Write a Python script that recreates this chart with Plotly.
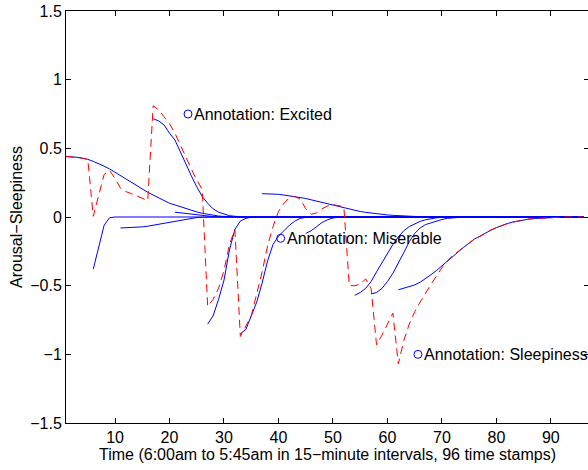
import plotly.graph_objects as go

N_T = 96
time = list(range(1, N_T + 1))

# Observed (red dashed) series, t = 1..96
observed = [
    0.44, 0.44, 0.435, 0.428, 0.42, 0.005, 0.15, 0.31, 0.34, 0.28,
    0.21, 0.185, 0.17, 0.155, 0.14, 0.12, 0.81, 0.78, 0.73, 0.68,
    0.61, 0.52, 0.44, 0.35, 0.27, 0.2, -0.65, -0.6, -0.52, -0.39,
    -0.2, -0.09, -0.87, -0.8, -0.72, -0.56, -0.4, -0.21, -0.07, 0.04,
    0.1, 0.14, 0.15, 0.13, 0.06, 0.02, 0.03, 0.06, 0.08, 0.09,
    0.085, 0.075, -0.5, -0.5, -0.49, -0.45, -0.52, -0.93, -0.86, -0.78,
    -0.7, -1.07, -0.9, -0.78, -0.69, -0.62, -0.55, -0.49, -0.43, -0.37,
    -0.32, -0.28, -0.25, -0.22, -0.19, -0.16, -0.14, -0.115, -0.095, -0.078,
    -0.062, -0.048, -0.037, -0.028, -0.021, -0.015, -0.011, -0.008, -0.005, -0.003,
    -0.002, -0.001, 0.0, 0.0, 0.0, 0.0,
]

# Predicted (blue) curves: start time and values until they settle at 0
pred_a_start = 1
pred_a = [0.44, 0.44, 0.435, 0.428, 0.42, 0.405, 0.39, 0.37, 0.35, 0.325,
          0.3, 0.275, 0.25, 0.225, 0.2, 0.18, 0.16, 0.14, 0.12, 0.1,
          0.088, 0.074, 0.06, 0.048, 0.037, 0.027, 0.019, 0.012, 0.007, 0.004,
          0.002, 0.001, 0.0]
pred_b_start = 6
pred_b = [-0.38, -0.22, -0.06, -0.005, 0.0]
pred_c_start = 11
pred_c = [-0.08, -0.079, -0.078, -0.076, -0.072, -0.067, -0.06, -0.052, -0.044, -0.036,
          -0.028, -0.02, -0.013, -0.008, -0.004, -0.002, -0.001, 0.0]
pred_d_start = 17
pred_d = [0.715, 0.7, 0.67, 0.61, 0.56, 0.47, 0.39, 0.3, 0.22, 0.15,
          0.1, 0.06, 0.035, 0.02, 0.01, 0.005, 0.002, 0.0]
pred_e_start = 21
pred_e = [0.035, 0.03, 0.025, 0.02, 0.015, 0.01, 0.006, 0.003, 0.001, 0.0]
pred_f_start = 27
pred_f = [-0.78, -0.72, -0.6, -0.46, -0.24, -0.09, -0.03, -0.01, -0.002, 0.0]
pred_g_start = 33
pred_g = [-0.85, -0.82, -0.72, -0.62, -0.48, -0.32, -0.2, -0.14, -0.1, -0.06,
          -0.03, -0.01, -0.003, 0.0]
pred_h_start = 45
pred_h = [-0.12, -0.1, -0.07, -0.04, -0.02, -0.007, -0.002, 0.0]
pred_i_start = 37
pred_i = [0.17, 0.17, 0.168, 0.165, 0.16, 0.155, 0.15, 0.143, 0.135, 0.125,
          0.115, 0.105, 0.095, 0.085, 0.075, 0.065, 0.056, 0.048, 0.04, 0.034,
          0.028, 0.023, 0.019, 0.015, 0.012, 0.009, 0.007, 0.005, 0.004, 0.003,
          0.002, 0.001, 0.0]
pred_j_start = 54
pred_j = [-0.57, -0.55, -0.52, -0.47, -0.4, -0.33, -0.26, -0.2, -0.145, -0.1,
          -0.07, -0.05, -0.032, -0.02, -0.012, -0.006, -0.003, -0.001, 0.0]
pred_k_start = 57
pred_k = [-0.56, -0.55, -0.52, -0.47, -0.41, -0.34, -0.26, -0.18, -0.12, -0.08,
          -0.055, -0.043, -0.03, -0.018, -0.01, -0.005, -0.002, 0.0]
pred_l_start = 62
pred_l = [-0.53, -0.52, -0.51, -0.495, -0.475, -0.45, -0.42, -0.39, -0.355, -0.32,
          -0.285, -0.25, -0.22, -0.19, -0.16, -0.14, -0.115, -0.095, -0.078, -0.062,
          -0.048, -0.037, -0.028, -0.021, -0.015, -0.011, -0.008, -0.005, -0.003, -0.002,
          -0.001, 0.0]

predictions = [
    (pred_a_start, pred_a), (pred_b_start, pred_b), (pred_c_start, pred_c),
    (pred_d_start, pred_d), (pred_e_start, pred_e), (pred_f_start, pred_f),
    (pred_g_start, pred_g), (pred_h_start, pred_h), (pred_i_start, pred_i),
    (pred_j_start, pred_j), (pred_k_start, pred_k), (pred_l_start, pred_l),
]

# Annotations
ann_x = [23.4, 40.4, 65.6]
ann_y = [0.75, -0.155, -1.0]
ann_text = ["Annotation: Excited", "Annotation: Miserable", "Annotation: Sleepiness"]

x_ticks = [10, 20, 30, 40, 50, 60, 70, 80, 90]
y_ticks = [-1.5, -1, -0.5, 0, 0.5, 1, 1.5]
y_tick_labels = ["\u22121.5", "\u22121", "\u22120.5", "0", "0.5", "1", "1.5"]

FONT = "Liberation Sans, Arial, Helvetica, sans-serif"
FS = 16

fig = go.Figure()
for start, vals in predictions:
    xs = list(range(start, start + len(vals)))
    ys = list(vals)
    # the curve stays at its settled value of 0 until the last time stamp
    if xs[-1] < N_T:
        xs.append(N_T)
        ys.append(vals[-1])
    fig.add_trace(go.Scatter(x=xs, y=ys, mode="lines",
                             line=dict(color="#0000ff", width=1),
                             showlegend=False, hoverinfo="skip"))

fig.add_trace(go.Scatter(x=time, y=observed, mode="lines",
                         line=dict(color="#ff0000", width=1, dash="8px,5px"),
                         showlegend=False, hoverinfo="skip"))

fig.add_trace(go.Scatter(x=ann_x, y=ann_y, mode="markers",
                         marker=dict(symbol="circle-open", size=8, color="#0000ff",
                                     line=dict(width=1, color="#0000ff")),
                         showlegend=False, cliponaxis=False, hoverinfo="skip"))

for x, y, t in zip(ann_x, ann_y, ann_text):
    fig.add_annotation(x=x, y=y, text=t, showarrow=False, xanchor="left",
                       yanchor="middle", xshift=4,
                       font=dict(family=FONT, size=FS, color="black"))

axis_common = dict(showline=True, linecolor="black", linewidth=1, mirror="ticks",
                   ticks="inside", ticklen=5, tickcolor="black", tickwidth=1,
                   showgrid=False, zeroline=False, ticklabeloverflow="allow",
                   tickfont=dict(family=FONT, size=FS, color="black"))

fig.update_xaxes(range=[1, 97], tickvals=x_ticks,
                 title=dict(text="Time (6:00am to 5:45am in 15\u2212minute intervals, 96 time stamps)",
                            font=dict(family=FONT, size=FS, color="black"), standoff=0),
                 **axis_common)
fig.update_yaxes(range=[-1.5, 1.5], tickvals=y_ticks, ticktext=y_tick_labels,
                 title=dict(text="Arousal\u2212Sleepiness",
                            font=dict(family=FONT, size=FS, color="black"), standoff=3),
                 **axis_common)

# the right border of the axes box sits just past the visible 588px edge
fig.update_layout(width=589, height=470,
                  margin=dict(l=66, r=0, t=11, b=47, autoexpand=False),
                  paper_bgcolor="white", plot_bgcolor="white",
                  font=dict(family=FONT, size=FS, color="black"))

# remove the default page margin so the figure sits at the top-left corner of the view
fig.write_html("out.html",
               config={"displayModeBar": False, "staticPlot": True},
               post_script="document.body.style.margin='0';document.body.style.overflow='hidden';")
